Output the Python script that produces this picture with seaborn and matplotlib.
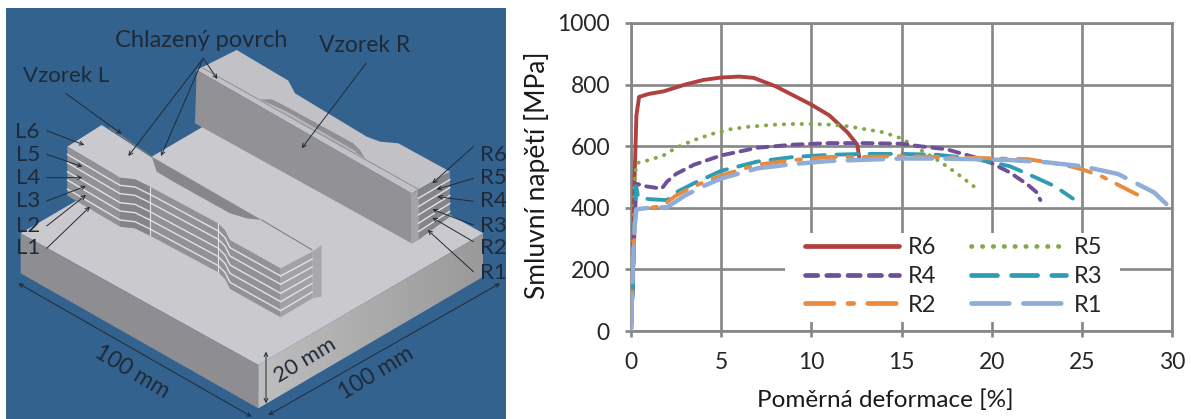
import matplotlib
matplotlib.use("Agg")
import matplotlib.pyplot as plt
from matplotlib.patches import Polygon, Rectangle
import numpy as np
import pandas as pd
import seaborn as sns

sns.set_theme(style="white")
plt.rcParams["font.family"] = ["Lato", "DejaVu Sans"]

# ---- stress-strain curves
r6_x = [0, 0.1, 0.2, 0.3, 0.45, 1, 1.8, 3, 4, 5, 6, 6.8, 8, 9, 10, 11, 12, 12.55, 12.65]
r6_y = [0, 200, 500, 700, 760, 770, 778, 800, 815, 823, 826, 822, 795, 765, 735, 700, 645, 605, 565]
r5_x = [0, 0.1, 0.2, 0.3, 1, 1.8, 2.5, 3.5, 4.5, 5.5, 6.5, 8, 9, 10, 11, 12, 13, 14, 15, 16, 17, 18, 19]
r5_y = [0, 250, 480, 545, 555, 570, 595, 620, 640, 655, 663, 670, 672, 672, 670, 665, 655, 645, 625, 590, 555, 515, 470]
r4_x = [0, 0.1, 0.2, 0.3, 0.8, 1.7, 2, 2.5, 3.5, 5, 7, 9, 11, 13, 15, 16, 17.5, 19, 20, 21, 22, 22.5, 22.7]
r4_y = [0, 150, 350, 478, 470, 462, 485, 510, 540, 570, 595, 605, 610, 610, 608, 600, 590, 565, 545, 515, 475, 450, 425]
r3_x = [0, 0.1, 0.2, 0.28, 0.4, 1, 2, 2.5, 3.5, 5, 7, 9, 11, 13, 15, 17, 19, 21, 22, 23.5, 24.5]
r3_y = [0, 130, 350, 470, 435, 428, 425, 450, 480, 520, 550, 565, 572, 575, 575, 572, 560, 535, 510, 470, 430]
r2_x = [0, 0.1, 0.2, 0.3, 1, 1.7, 2.5, 3.5, 5, 7, 9, 11, 13, 15, 17, 19, 22, 24, 25, 26, 27, 28.5]
r2_y = [0, 180, 340, 395, 400, 405, 440, 470, 505, 540, 555, 565, 565, 568, 565, 562, 558, 540, 525, 505, 475, 430]
r1_x = [0, 0.1, 0.2, 0.3, 1, 2, 3, 4, 5, 7, 9, 11, 13, 15, 17, 19, 21, 23, 25, 27, 29, 30]
r1_y = [0, 200, 340, 395, 400, 402, 440, 470, 495, 528, 542, 552, 556, 560, 560, 558, 555, 548, 535, 510, 450, 395]

x_ticks = [0, 5, 10, 15, 20, 25, 30]
y_ticks = [0, 200, 400, 600, 800, 1000]

W, H = 1191, 419
fig = plt.figure(figsize=(W / 100, H / 100), dpi=100, facecolor="white")

# ---- left panel: specimen sketch, drawn in 3x pixel units
sk = fig.add_axes([0, 0, 1, 1])
sk.set_xlim(0, W * 3)
sk.set_ylim(H * 3, 0)
sk.axis("off")

BLUE = "#33628F"
TOP = "#CACACE"
SIDE = "#929296"
DARK = "#1E2A38"
WHITE_LINE = "#E2E2E4"


def poly(pts, color, z=2):
    p = Polygon(pts, closed=True, facecolor=color, edgecolor="none", zorder=z)
    sk.add_patch(p)
    return p


sk.add_patch(Rectangle((18, 24), 1500, 1233, facecolor=BLUE, edgecolor="none", zorder=1))

# base block
poly([(62, 700), (737, 305), (1450, 700), (775, 1095)], TOP)
poly([(62, 700), (775, 1095), (775, 1225), (62, 820)], "#8E8E92")
right_face = poly([(775, 1095), (1450, 700), (1450, 830), (775, 1225)], "none")
shade = sk.imshow(np.linspace(0.74, 0.6, 64).reshape(1, -1), extent=(775, 1450, 1225, 700), aspect="auto",
                  cmap="gray", vmin=0, vmax=1, zorder=2)
shade.set_clip_path(right_face)
sk.set_xlim(0, W * 3)
sk.set_ylim(H * 3, 0)

# sample R
r_top = [(590, 210), (710, 150), (865, 242), (885, 280), (1100, 410), (1140, 425), (1195, 430), (1350, 515), (1235, 580)]
poly(r_top, "#C2C2C6", 3)
poly([(590, 210), (1235, 580), (1235, 730), (585, 370)], SIDE, 3)
poly([(780, 298), (815, 298), (850, 315), (1060, 430), (1080, 450), (1095, 475), (990, 410), (870, 340)], "#909094", 4)
poly([(835, 330), (860, 335), (1070, 455), (1060, 460)], "#B4B4B8", 5)
poly([(1235, 580), (1255, 570), (1255, 720), (1235, 732)], "#A4A4A8", 4)
poly([(1255, 570), (1350, 515), (1350, 650), (1255, 720)], "#858589", 3)
sk.plot([610, 1255], [205, 568], color="#87878B", lw=0.6, zorder=6)
for off in [25, 50, 75, 100, 125]:
    sk.plot([1255, 1350], [570 + off, 515 + off * 0.95], color=WHITE_LINE, lw=1, zorder=6)

# sample L
l_edge = [(202, 440), (360, 533), (405, 538), (450, 560), (655, 670), (675, 690), (690, 720), (842, 805)]
l_right = [(937, 755), (785, 660), (740, 655), (690, 640), (520, 545), (470, 515), (455, 472), (305, 375)]
poly(l_edge + l_right, TOP, 4)
poly([(455, 470), (785, 660), (740, 655), (690, 640), (520, 545), (470, 515)], "#878789", 5)
l_h = 147
poly(l_edge + [(x, y + l_h) for x, y in reversed(l_edge)], SIDE, 4)
neck = l_edge[1:4]
poly(neck + [(x, y + l_h) for x, y in reversed(neck)], "#858589", 4)
poly([(842, 805), (937, 755), (937, 895), (842, 952)], "#A2A2A6", 4)
poly([(937, 755), (965, 735), (965, 890), (937, 895)], "#A8A8AC", 5)
for off in [23, 48, 75, 100, 127]:
    sk.plot([p[0] for p in l_edge], [p[1] + off for p in l_edge], color=WHITE_LINE, lw=1, zorder=6)
    sk.plot([842, 937], [805 + off, 755 + off * 0.95], color=WHITE_LINE, lw=1, zorder=6)
sk.plot([330, 455], [385, 470], color="#77777B", lw=1.1, zorder=6)
sk.plot([785, 937], [660, 750], color="#77777B", lw=0.7, zorder=6)
sk.plot([450, 450], [560, 705], color=WHITE_LINE, lw=0.8, zorder=6)
sk.plot([655, 655], [670, 815], color=WHITE_LINE, lw=0.8, zorder=6)

# labels and leader arrows
labels = [
    ("Chlazený povrch", 605, 122, 0, 17), ("Vzorek R", 1095, 135, 0, 16.5), ("Vzorek L", 197, 228, 0, 16),
    ("L6", 83, 395, 0, 16), ("L5", 83, 465, 0, 16), ("L4", 83, 533, 0, 16), ("L3", 83, 603, 0, 16),
    ("L2", 83, 678, 0, 16), ("L1", 83, 745, 0, 16),
    ("R6", 1480, 465, 0, 16), ("R5", 1480, 535, 0, 16), ("R4", 1480, 604, 0, 16), ("R3", 1480, 678, 0, 16),
    ("R2", 1480, 745, 0, 16), ("R1", 1480, 820, 0, 16),
    ("100 mm", 395, 1115, -31, 16.5), ("100 mm", 1130, 1120, 31, 16.5), ("20 mm", 915, 1080, 31, 16),
]
for txt, tx, ty, rot, fs in labels:
    sk.text(tx, ty, txt, fontsize=fs, color=DARK, ha="center", va="center", rotation=rot,
            rotation_mode="anchor", zorder=8)

leaders = [
    ((610, 175), (385, 468)), ((610, 175), (483, 468)), ((610, 175), (652, 237)),
    ((197, 280), (365, 402)), ((1098, 190), (905, 445)),
    ((140, 392), (253, 435)), ((140, 463), (247, 500)), ((140, 533), (247, 533)),
    ((140, 603), (258, 558)), ((140, 678), (258, 585)), ((140, 745), (270, 620)),
    ((1420, 440), (1297, 550)), ((1420, 535), (1310, 568)), ((1420, 604), (1312, 590)),
    ((1420, 675), (1297, 628)), ((1420, 725), (1297, 653)), ((1420, 815), (1283, 690)),
]
for start, end in leaders:
    sk.annotate("", xy=end, xytext=start, zorder=9,
                arrowprops=dict(arrowstyle="->", color=DARK, lw=0.7, shrinkA=0, shrinkB=0, mutation_scale=7))
for start, end in [((55, 850), (755, 1250)), ((805, 1245), (1500, 850)), ((798, 1055), (798, 1210))]:
    sk.annotate("", xy=end, xytext=start, zorder=9,
                arrowprops=dict(arrowstyle="<->", color=DARK, lw=0.7, shrinkA=0, shrinkB=0, mutation_scale=7))

# ---- right panel: chart
ax = fig.add_axes([631 / W, 1 - 331 / H, (1172 - 631) / W, (331 - 23) / H])

series = [
    ("R6", r6_x, r6_y, "#B0413E", "-", 2.8),
    ("R5", r5_x, r5_y, "#84A84B", (0, (0.1, 2.2)), 2.8),
    ("R4", r4_x, r4_y, "#6F4F99", (0, (2.6, 1.9)), 2.8),
    ("R3", r3_x, r3_y, "#2E9DB3", (0, (5.5, 3)), 2.8),
    ("R2", r2_x, r2_y, "#E98A3C", (0, (6, 3, 1.2, 3)), 2.8),
    ("R1", r1_x, r1_y, "#8FADD6", (0, (8, 3)), 3.2),
]
for name, xs, ys, col, ls, lw in series:
    df = pd.DataFrame({"strain": xs, "stress": ys})
    sns.lineplot(data=df, x="strain", y="stress", color=col, linestyle=ls, linewidth=lw,
                 sort=False, errorbar=None, ax=ax, label=name, zorder=3)
for line in ax.get_lines():
    line.set_dash_capstyle("round")

GRID = "#868686"
ax.set_xlim(0, 30)
ax.set_ylim(0, 1000)
ax.set_xticks(x_ticks)
ax.set_yticks(y_ticks)
ax.grid(True, color=GRID, linewidth=1.9)
ax.set_axisbelow(True)
for s in ax.spines.values():
    s.set_color(GRID)
    s.set_linewidth(1.9)
ax.tick_params(axis="both", length=4.2, width=1.9, color=GRID, labelsize=16.5, labelcolor="#262626", pad=11,
               left=True, bottom=True)
ax.set_xlabel("Poměrná deformace [%]", fontsize=17.5, color="#1a1a1a", va="center")
ax.set_ylabel("Smluvní napětí [MPa]", fontsize=19, color="#1a1a1a", va="center")
ax.xaxis.set_label_coords(0.471, -0.224)
ax.yaxis.set_label_coords(-0.174, 0.506)

# white box behind the legend hides the grid, as in the reference
ax.add_patch(Rectangle(((785 - 631) / 541, (331 - 322) / 308), (1120 - 785) / 541, (322 - 233) / 308,
                       transform=ax.transAxes, facecolor="white", edgecolor="none", zorder=2.5))

h, l = ax.get_legend_handles_labels()
order = [0, 2, 4, 1, 3, 5]
leg = ax.legend([h[i] for i in order], [l[i] for i in order], ncol=2, loc="upper left",
                bbox_to_anchor=((805 - 631) / 541, (331 - 237) / 308), frameon=False, fontsize=17,
                handlelength=4.0, labelspacing=0.33, columnspacing=1.5, handletextpad=0.34,
                borderpad=0, borderaxespad=0)
for line in leg.get_lines():
    line.set_linewidth(3.4)

fig.savefig("out.png", dpi=100)
